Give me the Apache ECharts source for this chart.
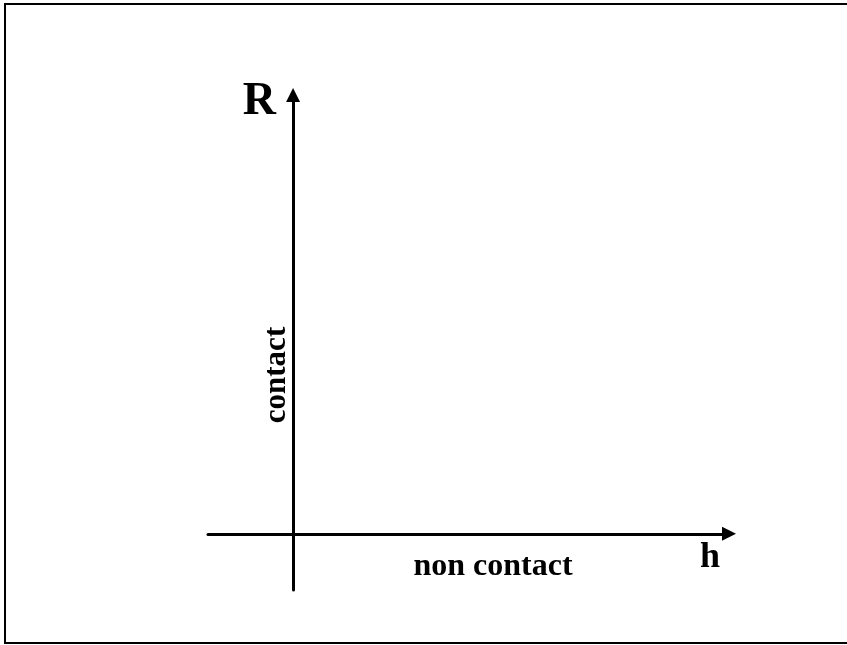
<!DOCTYPE html>
<html>
	<head>
		<meta charset="utf-8" />
		<title></title>
		<script src="https://cdn.jsdelivr.net/npm/echarts@6/dist/echarts.min.js"></script>
		<style type="text/css">
			html,body{
				margin: 0;
				width: 100%;
				height: 100%;
				background: #fff;
			}
		</style>
	</head>
	<body>
		<div id="main" style="width:847px;height:645px;"></div>
		<script>
			// axis extents (the axes cross at 0,0)
			var xRange = [-16, 82];
			var yRange = [-11, 86];
			var xName = 'h';
			var yName = 'R';
			var xLabel = 'non contact';
			var yLabel = 'contact';

			var font = '"Liberation Serif", "Times New Roman", serif';
			var myChart = echarts.init(document.getElementById('main'));
			var option = {
				backgroundColor: '#fff',
				animation: false,
				grid: {
					left: 208,
					right: 118,
					top: 95,
					bottom: 55
				},
				xAxis: {
					type: 'value',
					min: xRange[0],
					max: xRange[1],
					name: xName,
					nameLocation: 'end',
					nameGap: -29,
					nameTextStyle: {
						fontFamily: font,
						fontWeight: 'bold',
						fontSize: 36,
						color: '#000',
						align: 'left',
						verticalAlign: 'top',
						padding: [6, 0, 0, 0]
					},
					axisLine: {
						onZero: true,
						symbol: ['none', 'triangle'],
						symbolSize: [14, 14],
						lineStyle: { color: '#000', width: 3 }
					},
					axisTick: { show: false },
					axisLabel: { show: false },
					splitLine: { show: false }
				},
				yAxis: {
					type: 'value',
					min: yRange[0],
					max: yRange[1],
					name: yName,
					nameLocation: 'end',
					nameGap: -7,
					nameTextStyle: {
						fontFamily: font,
						fontWeight: 'bold',
						fontSize: 46,
						color: '#000',
						align: 'right',
						verticalAlign: 'middle',
						padding: [0, 17, 0, 0]
					},
					axisLine: {
						onZero: true,
						symbol: ['none', 'triangle'],
						symbolSize: [14, 14],
						lineStyle: { color: '#000', width: 3 }
					},
					axisTick: { show: false },
					axisLabel: { show: false },
					splitLine: { show: false }
				},
				graphic: [
					{
						// frame of the scanned figure (no right side)
						type: 'polyline',
						shape: { points: [[850, 4], [5, 4], [5, 643], [850, 643]] },
						style: { stroke: '#000', lineWidth: 2, fill: null }
					},
					{
						type: 'text',
						x: 493,
						y: 567,
						style: {
							text: xLabel,
							font: 'bold 32px ' + font,
							fill: '#000',
							align: 'center',
							verticalAlign: 'middle'
						}
					},
					{
						type: 'text',
						x: 277,
						y: 375,
						rotation: Math.PI / 2,
						style: {
							text: yLabel,
							font: 'bold 31px ' + font,
							fill: '#000',
							align: 'center',
							verticalAlign: 'middle'
						}
					}
				],
				series: []
			};
			myChart.setOption(option);
		</script>
	</body>
</html>
